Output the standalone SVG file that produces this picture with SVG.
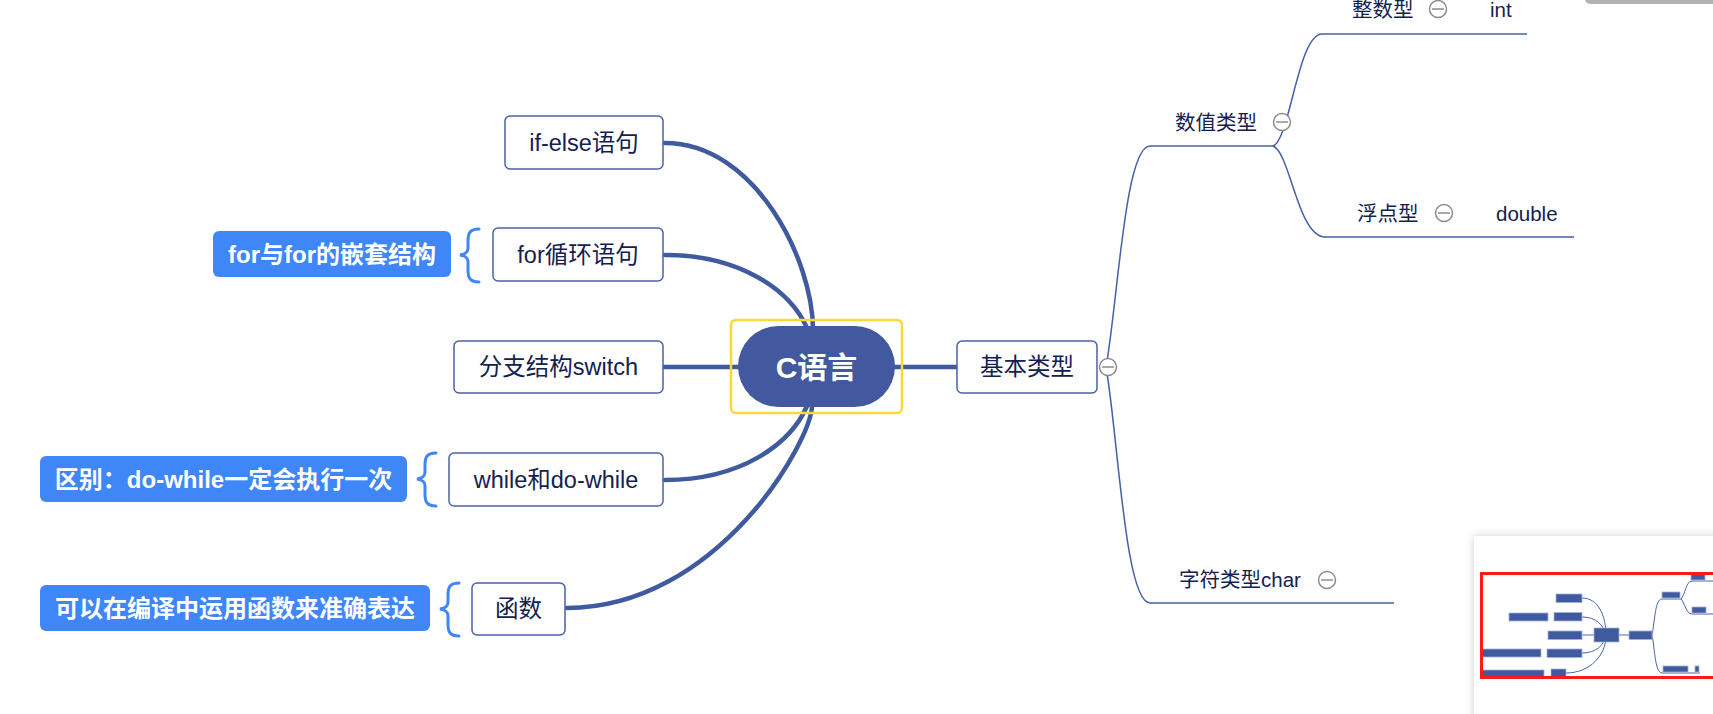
<svg xmlns="http://www.w3.org/2000/svg" width="1713" height="714" viewBox="0 0 1713 714">
<defs>
<style>
.t{font-family:"Liberation Sans","Noto Sans CJK SC",sans-serif;fill:#14214f;dominant-baseline:central}
.nt{font-size:23.5px;text-anchor:middle}
.lt{font-size:20.5px}
.ct{font-size:24px;font-weight:bold;fill:#fff;text-anchor:middle}
.node{fill:#fff;stroke:#4a62a8;stroke-width:1.5}
.call{fill:#3f86f8}
.brace{fill:none;stroke:#3f86f8;stroke-width:3;stroke-linecap:round}
.main{fill:none;stroke:#3f5a9f;stroke-width:4.5;stroke-linecap:round}
.thin{fill:none;stroke:#4560a5;stroke-width:1.5}
.fold circle{fill:#fff;stroke:#8c8c8c;stroke-width:1.5}
.fold line{stroke:#8c8c8c;stroke-width:1.5}
.mb{fill:#3f5a9f;stroke:#a3b1d6;stroke-width:0.8}
.ml{fill:none;stroke:#4a64a8;stroke-width:1}
.mll{fill:none;stroke:#a7b4d8;stroke-width:2}
</style>
<filter id="sh" x="-20%" y="-20%" width="140%" height="140%">
<feDropShadow dx="0" dy="0" stdDeviation="4" flood-color="#000" flood-opacity="0.18"/>
</filter>
</defs>
<rect width="1713" height="714" fill="#fff"/>
<rect x="1585" y="-6" width="140" height="10" rx="5" fill="#b3b3b3"/>

<g id="connectors">
<path class="main" d="M665 143 C755 143 813 260 813 330"/>
<path class="main" d="M665 255 C740 255 790 290 807 328"/>
<path class="main" d="M663 367 L740 367"/>
<path class="main" d="M665 480 C740 480 790 445 807 406"/>
<path class="main" d="M567 608 C717 608 812 441 812 405"/>
<path class="main" d="M893 367 L957 367"/>
<path class="thin" d="M1106 367 C1118 300 1125 146 1150 146 L1275 146"/>
<path class="thin" d="M1106 367 C1118 435 1125 603 1150 603 L1394 603"/>
<path class="thin" d="M1273 146 C1290 140 1298 34 1322 34 L1527 34"/>
<path class="thin" d="M1273 146 C1290 152 1298 237 1325 237 L1574 237"/>
<g class="brace">
<path d="M479 229 C470 229 468 233 468 241 L468 248 C468 252 466 254 460 255 C466 256 468 258 468 262 L468 270 C468 278 470 282 479 282"/>
<path d="M436 453 C427 453 425 457 425 465 L425 472 C425 476 423 478 417 479 C423 480 425 482 425 486 L425 494 C425 502 427 506 436 506"/>
<path d="M459 583 C450 583 448 587 448 595 L448 602 C448 606 446 608 440 609 C446 610 448 612 448 616 L448 624 C448 632 450 636 459 636"/>
</g>
</g>

<g id="center">
<rect x="731" y="320" width="171" height="93" rx="5" fill="none" stroke="#fdd835" stroke-width="2.5"/>
<rect x="738" y="326" width="157" height="81" rx="40.5" fill="#42599f"/>
<text class="t" x="816.5" y="367" font-size="30" font-weight="bold" fill="#fff" text-anchor="middle" style="fill:#fff">C语言</text>
</g>

<g id="n-ifelse"><rect class="node" x="505" y="116" width="158" height="53" rx="5"/><text class="t nt" x="584" y="143">if-else语句</text></g>
<g id="n-for"><rect class="node" x="493" y="228" width="170" height="53" rx="5"/><text class="t nt" x="578" y="255">for循环语句</text></g>
<g id="n-switch"><rect class="node" x="454" y="341" width="209" height="52" rx="5"/><text class="t nt" x="558.5" y="367">分支结构switch</text></g>
<g id="n-while"><rect class="node" x="449" y="453" width="214" height="53" rx="5"/><text class="t nt" x="556" y="480">while和do-while</text></g>
<g id="n-func"><rect class="node" x="472" y="583" width="93" height="52" rx="5"/><text class="t nt" x="518.5" y="609">函数</text></g>
<g id="n-basic"><rect class="node" x="957" y="341" width="140" height="52" rx="5"/><text class="t nt" x="1027" y="367">基本类型</text></g>

<g id="c-for"><rect class="call" x="213" y="231" width="238" height="46" rx="6"/><text class="t ct" x="332" y="254">for与for的嵌套结构</text></g>
<g id="c-while"><rect class="call" x="40" y="456" width="367" height="46" rx="6"/><text class="t ct" x="223.5" y="479">区别：do-while一定会执行一次</text></g>
<g id="c-func"><rect class="call" x="40" y="585" width="390" height="46" rx="6"/><text class="t ct" x="235" y="608">可以在编译中运用函数来准确表达</text></g>

<g id="n-num"><text class="t lt" x="1175" y="122">数值类型</text></g>
<g id="n-int"><text class="t lt" x="1352" y="9">整数型</text></g>
<g id="n-intv"><text class="t lt" x="1490" y="9">int</text></g>
<g id="n-float"><text class="t lt" x="1357" y="213">浮点型</text></g>
<g id="n-floatv"><text class="t lt" x="1496" y="213">double</text></g>
<g id="n-char"><text class="t lt" x="1179" y="579">字符类型char</text></g>

<g id="folds" class="fold">
<g><circle cx="1108" cy="367" r="8.5"/><line x1="1102" y1="367" x2="1114" y2="367"/></g>
<g><circle cx="1282" cy="122" r="8.5"/><line x1="1276" y1="122" x2="1288" y2="122"/></g>
<g><circle cx="1438" cy="9" r="8.5"/><line x1="1432" y1="9" x2="1444" y2="9"/></g>
<g><circle cx="1444" cy="213" r="8.5"/><line x1="1438" y1="213" x2="1450" y2="213"/></g>
<g><circle cx="1327" cy="580" r="8.5"/><line x1="1321" y1="580" x2="1333" y2="580"/></g>
</g>

<g id="minimap">
<rect x="1474" y="536" width="260" height="190" fill="#fff" filter="url(#sh)"/>
<path class="ml" d="M1582 598 C1598 598 1606 615 1606 636"/>
<path class="ml" d="M1582 617 C1596 617 1604 625 1606 636"/>
<path class="ml" d="M1582 653 C1596 653 1604 645 1606 636"/>
<path class="ml" d="M1566 673 C1590 673 1606 655 1606 636"/>
<path class="mll" d="M1582 635 L1594 635"/>
<path class="mll" d="M1619 635 L1629 635"/>
<path class="ml" d="M1652 635 C1655 620 1655 599 1662 599 L1681 599"/>
<path class="ml" d="M1652 635 C1655 650 1655 673 1662 673 L1700 673"/>
<path class="ml" d="M1681 599 C1685 595 1686 581 1692 581 L1713 581"/>
<path class="ml" d="M1681 599 C1685 603 1686 614 1692 614 L1713 614"/>
<rect class="mb" x="1556" y="594" width="26" height="8.5"/>
<rect class="mb" x="1554" y="612.5" width="28" height="8.5"/>
<rect class="mb" x="1509" y="613" width="39" height="8"/>
<rect class="mb" x="1548" y="631" width="34" height="8.5"/>
<rect class="mb" x="1594" y="628" width="25" height="14"/>
<rect class="mb" x="1629" y="631" width="23" height="8.5"/>
<rect class="mb" x="1547" y="649" width="35" height="8.5"/>
<rect class="mb" x="1482" y="649" width="59" height="8"/>
<rect class="mb" x="1551" y="669" width="15" height="8"/>
<rect class="mb" x="1482" y="670" width="62" height="7.5"/>
<rect class="mb" x="1662" y="592" width="18" height="6"/>
<rect class="mb" x="1691" y="574" width="14" height="6"/>
<rect class="mb" x="1692" y="607" width="14" height="6"/>
<rect class="mb" x="1663" y="666" width="25" height="6"/>
<rect class="mb" x="1695" y="666" width="4" height="6"/>
<rect x="1481.5" y="573.5" width="240" height="104" fill="none" stroke="#ff1a1a" stroke-width="3"/>
</g>
</svg>
